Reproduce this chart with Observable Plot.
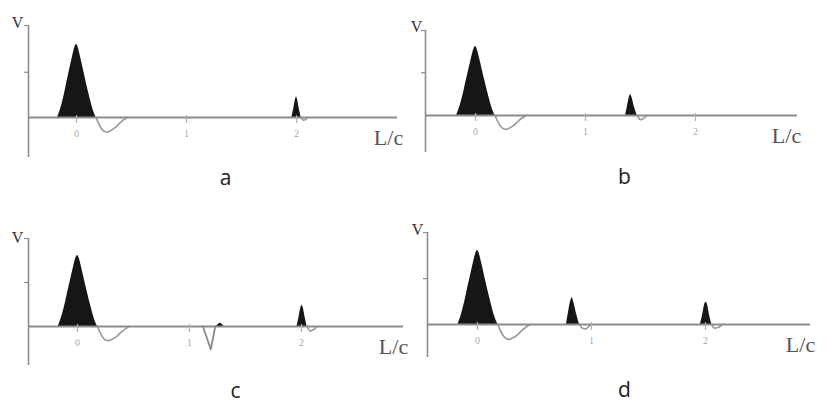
<!DOCTYPE html>
<html><head><meta charset="utf-8">
<script src="https://cdn.jsdelivr.net/npm/d3@7"></script>
<script src="https://cdn.jsdelivr.net/npm/@observablehq/plot@0.6"></script>
<style>
html,body{margin:0;padding:0;background:#fff;}
#wrap{position:relative;width:833px;height:417px;overflow:hidden;background:#fff;}
#wrap > svg{position:absolute;overflow:visible;}
</style></head><body><div id="wrap"></div>
<script>
// ---------- data (x in L/c, V relative to main peak) ----------
const panelNames = ["a", "b", "c", "d"];
const tickValues = [0, 1, 2];
const tickLabels = ["0", "1", "2"];
const yTickValue = 0.62;

// main incident pulse (same in all panels) and its negative undershoot
const mainPulseX = [-0.172, -0.14, -0.11, -0.085, -0.06, -0.035, -0.015, 0, 0.015, 0.035, 0.06, 0.09, 0.12, 0.15, 0.178];
const mainPulseV = [0, 0.14, 0.32, 0.5, 0.67, 0.84, 0.96, 1, 0.96, 0.84, 0.67, 0.47, 0.28, 0.11, 0];
const mainUnderX = [0.178, 0.2, 0.225, 0.25, 0.275, 0.31, 0.35, 0.39, 0.43, 0.46];
const mainUnderV = [0, -0.08, -0.15, -0.19, -0.2, -0.18, -0.14, -0.08, -0.03, 0];

// panel a: reflection at L/c = 2
const aPulseX = [1.958, 1.975, 1.99, 2.0, 2.01, 2.025, 2.042];
const aPulseV = [0, 0.12, 0.24, 0.28, 0.24, 0.12, 0];
const aUnderX = [2.042, 2.06, 2.08, 2.1];
const aUnderV = [0, -0.035, -0.03, 0];

// panel b: reflection at L/c = 1.41
const bPulseX = [1.364, 1.38, 1.398, 1.41, 1.422, 1.445, 1.47];
const bPulseV = [0, 0.12, 0.26, 0.3, 0.26, 0.12, 0];
const bUnderX = [1.47, 1.5, 1.53, 1.56];
const bUnderV = [0, -0.06, -0.04, 0];

// panel c: negative dip near 1.19, tiny blip, reflection at 2
const cDipX = [1.12, 1.19, 1.23];
const cDipV = [0, -0.32, 0];
const cBlipX = [1.24, 1.26, 1.275, 1.29, 1.31];
const cBlipV = [0, 0.03, 0.045, 0.03, 0];
const cPulseX = [1.96, 1.978, 1.994, 2.005, 2.016, 2.032, 2.05];
const cPulseV = [0, 0.13, 0.26, 0.3, 0.26, 0.13, 0];
const cUnderX = [2.05, 2.08, 2.11, 2.14];
const cUnderV = [0, -0.065, -0.04, 0];

// panel d: reflection at 0.83 and at 2
const d1PulseX = [0.78, 0.798, 0.817, 0.83, 0.843, 0.866, 0.895];
const d1PulseV = [0, 0.16, 0.31, 0.36, 0.31, 0.16, 0];
const d1UnderX = [0.895, 0.92, 0.95, 0.975, 0.99];
const d1UnderV = [0, -0.05, -0.06, -0.03, 0];
const d2PulseX = [1.955, 1.975, 1.993, 2.005, 2.017, 2.035, 2.055];
const d2PulseV = [0, 0.13, 0.27, 0.3, 0.27, 0.13, 0];
const d2UnderX = [2.055, 2.08, 2.11, 2.15];
const d2UnderV = [0, -0.05, -0.04, 0];

const panelFills = {
  a: [[mainPulseX, mainPulseV], [aPulseX, aPulseV]],
  b: [[mainPulseX, mainPulseV], [bPulseX, bPulseV]],
  c: [[mainPulseX, mainPulseV], [cBlipX, cBlipV], [cPulseX, cPulseV]],
  d: [[mainPulseX, mainPulseV], [d1PulseX, d1PulseV], [d2PulseX, d2PulseV]]
};
const panelLines = {
  a: [[mainUnderX, mainUnderV], [aUnderX, aUnderV]],
  b: [[mainUnderX, mainUnderV], [bUnderX, bUnderV]],
  c: [[mainUnderX, mainUnderV], [cUnderX, cUnderV]],
  d: [[mainUnderX, mainUnderV], [d1UnderX, d1UnderV], [d2UnderX, d2UnderV]]
};
const panelSharpLines = {
  a: [], b: [], c: [[cDipX, cDipV]], d: []
};

// ---------- layout (page pixels) ----------
const layout = {
  a: {left: 0, top: 0, w: 400, h: 208, axisX: 28, axisTop: 25, axisBottom: 157, baseline: 117, x0: 76, unit: 110, xEnd: 397, peak: 73, vLab: [17, 22], lcLab: [388, 137], letter: [225, 178]},
  b: {left: 400, top: 0, w: 433, h: 208, axisX: 425, axisTop: 30, axisBottom: 152, baseline: 115, x0: 475, unit: 110, xEnd: 797, peak: 69, vLab: [416, 26], lcLab: [786, 135], letter: [624, 177]},
  c: {left: 0, top: 208, w: 400, h: 209, axisX: 28, axisTop: 238, axisBottom: 365, baseline: 326, x0: 77, unit: 112, xEnd: 403, peak: 71, vLab: [17, 237], lcLab: [393, 346], letter: [235, 391]},
  d: {left: 400, top: 208, w: 433, h: 209, axisX: 427, axisTop: 232, axisBottom: 357, baseline: 324, x0: 477, unit: 114, xEnd: 810, peak: 74, vLab: [417, 229], lcLab: [800, 344], letter: [624, 390]}
};

const axisColor = "#8c8c8c";
const fillColor = "#161616";
const underColor = "#9c9c9c";

function toRows(parts) {
  return parts.flatMap(([xs, vs], k) => xs.map((x, i) => ({x, v: vs[i], id: k})));
}

const wrap = document.getElementById("wrap");
for (const name of panelNames) {
  const L = layout[name];
  const X = px => (px - L.x0) / L.unit;
  const Y = py => (L.baseline - py) / L.peak;
  const xd = [X(L.axisX), X(L.xEnd)];
  const yd = [Y(L.axisBottom), Y(L.axisTop)];
  const chart = Plot.plot({
    width: L.w,
    height: L.h,
    marginLeft: L.axisX - L.left,
    marginRight: L.left + L.w - L.xEnd,
    marginTop: L.axisTop - L.top,
    marginBottom: L.top + L.h - L.axisBottom,
    x: {domain: xd, axis: null},
    y: {domain: yd, axis: null},
    style: {background: "transparent", overflow: "visible"},
    marks: [
      Plot.areaY(toRows(panelFills[name]), {x: "x", y: "v", z: "id", fill: fillColor, curve: "monotone-x"}),
      Plot.line(toRows(panelLines[name]), {x: "x", y: "v", z: "id", stroke: underColor, strokeWidth: 1.7, curve: "monotone-x"}),
      Plot.line(toRows(panelSharpLines[name]), {x: "x", y: "v", z: "id", stroke: "#8a8a8a", strokeWidth: 1.8, curve: "linear"}),
      Plot.ruleY([0], {stroke: axisColor, strokeWidth: 2}),
      Plot.ruleX([xd[0]], {stroke: axisColor, strokeWidth: 1.6}),
      Plot.ruleY([yd[1], yTickValue], {x1: X(L.axisX - 4), x2: xd[0], stroke: axisColor, strokeWidth: 1.2}),
      Plot.ruleX(tickValues, {y1: Y(L.baseline + 6), y2: Y(L.baseline - 2), stroke: "#b0b0b0", strokeWidth: 1.2}),
      Plot.text(tickValues, {x: d => d, y: Y(L.baseline + 16), text: (d, i) => tickLabels[i], fontSize: 10, fill: "#a8a8a8", fontFamily: "Liberation Serif"}),
      Plot.text(["V"], {x: X(L.vLab[0]), y: Y(L.vLab[1]), text: d => d, fontSize: 16, fill: "#333", fontFamily: "Liberation Serif"}),
      Plot.text(["L/c"], {x: X(L.lcLab[0]), y: Y(L.lcLab[1]), text: d => d, fontSize: 22, fill: "#555", fontFamily: "Liberation Serif", letterSpacing: "1.5px"}),
      Plot.text([name], {x: X(L.letter[0]), y: Y(L.letter[1]), text: d => d, fontSize: 21, fill: "#222", fontFamily: "Open Sans"})
    ]
  });
  chart.style.left = L.left + "px";
  chart.style.top = L.top + "px";
  wrap.appendChild(chart);
}
</script>
</body></html>
